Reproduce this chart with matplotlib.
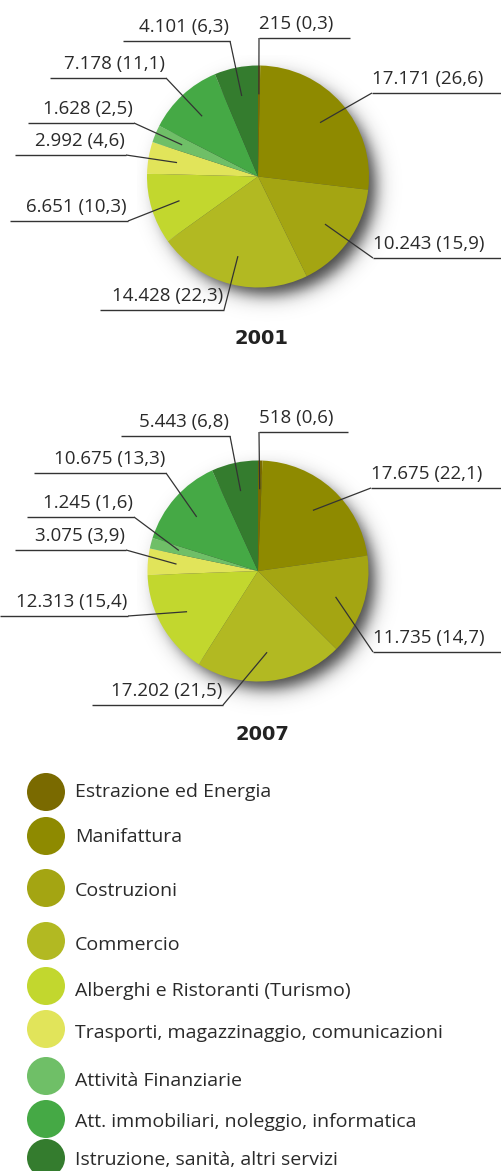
import numpy as np
import matplotlib
matplotlib.use("Agg")
import matplotlib.pyplot as plt
from matplotlib.patches import Circle

# ---------------- data ----------------
categories = [
    "Estrazione ed Energia",
    "Manifattura",
    "Costruzioni",
    "Commercio",
    "Alberghi e Ristoranti (Turismo)",
    "Trasporti, magazzinaggio, comunicazioni",
    "Attività Finanziarie",
    "Att. immobiliari, noleggio, informatica",
    "Istruzione, sanità, altri servizi",
]
values_2001 = [215, 17171, 10243, 14428, 6651, 2992, 1628, 7178, 4101]
pct_2001 = [0.3, 26.6, 15.9, 22.3, 10.3, 4.6, 2.5, 11.1, 6.3]
values_2007 = [518, 17675, 11735, 17202, 12313, 3075, 1245, 10675, 5443]
pct_2007 = [0.6, 22.1, 14.7, 21.5, 15.4, 3.9, 1.6, 13.3, 6.8]
years = ["2001", "2007"]

colors = ["#7A6A00", "#8E8A00", "#A4A512", "#B2B922", "#C2D72E",
          "#E1E45A", "#6FBF67", "#45A945", "#347C2E"]

# ---------------- layout (pixels) ----------------
W, H = 501, 1171
TXT = "#2a2a2a"
LINE = "#333333"

def Y(py):
    return H - py

# per pie: center, radius, title y, label elbows (x, y, line other end x)
pie_layout = [
    dict(center=(258, 176.5), r=111, title_y=339,
         elbows=[(259, 38, 350), (372, 93, 501), (373, 258, 501), (224, 310, 100),
                 (128, 221, 10), (126, 155, 15), (134, 123, 28), (166, 78, 50),
                 (230, 41, 123)]),
    dict(center=(258, 571), r=110.5, title_y=735,
         elbows=[(259, 432, 348), (371, 488, 501), (373, 652, 501), (223, 705, 92),
                 (128, 616, 0), (126, 550, 15), (134, 517, 27), (166, 473, 34),
                 (230, 436, 121)]),
]

legend_x = 46
legend_r = 19
legend_circle_y = [792, 836, 888, 941, 986, 1029, 1076, 1119, 1158]
legend_text_y = [792, 837, 891, 945, 991, 1033, 1081, 1122, 1160]

LABEL_FONT = ["Open Sans", "DejaVu Sans"]


def fmt_num(v):
    return f"{v:,}".replace(",", ".")


def fmt_pct(p):
    return f"{p:.1f}".replace(".", ",")


fig = plt.figure(figsize=(W / 100, H / 100), dpi=100)
ax = fig.add_axes([0, 0, 1, 1])


def draw_shadow(cx, cy, r):
    # soft drop shadow to lower-right
    x0, x1 = cx - r - 10, cx + r + 50
    y0, y1 = cy - r - 10, cy + r + 50   # pixel y
    n = 320
    xs = np.linspace(x0, x1, n)
    ys = np.linspace(y0, y1, n)
    XX, YY = np.meshgrid(xs, ys)
    sx, sy = cx + 9, cy + 10
    d = np.hypot(XX - sx, YY - sy)
    a = 0.85 * 0.5 * (1 - np.tanh((d - (r - 2)) / 10.0))
    img = np.zeros((n, n, 4))
    img[..., :3] = 0.12
    img[..., 3] = a
    ax.imshow(img, extent=(x0, x1, Y(y1), Y(y0)), origin="upper",
              interpolation="bilinear", zorder=1)


for vals, pcts, lay, yr in zip([values_2001, values_2007], [pct_2001, pct_2007],
                               pie_layout, years):
    cx, cy = lay["center"]
    r = lay["r"]
    draw_shadow(cx, cy, r)
    wedges, _ = ax.pie(vals, colors=colors, startangle=90, counterclock=False,
                       radius=r, center=(cx, Y(cy)),
                       wedgeprops=dict(linewidth=0))
    for w in wedges:
        w.set_zorder(2)
    total = float(sum(vals))
    cum = 0.0
    for i, v in enumerate(vals):
        mid = 90 - 360 * (cum + v / 2) / total
        cum += v
        th = np.deg2rad(mid)
        ix = cx + 0.74 * r * np.cos(th)
        iy = Y(cy) + 0.74 * r * np.sin(th)
        ex, ey, ox = lay["elbows"][i]
        ax.plot([ix, ex], [iy, Y(ey)], color=LINE, lw=0.9, zorder=5,
                solid_capstyle="butt")
        ax.plot([ex, ox], [Y(ey), Y(ey)], color=LINE, lw=1.0, zorder=5,
                solid_capstyle="butt")
        label = f"{fmt_num(v)} ({fmt_pct(pcts[i])})"
        if ox > ex:
            ax.text(ex, Y(ey) + 9, label, ha="left", va="baseline",
                    fontsize=13.5, color=TXT, family=LABEL_FONT, zorder=6)
        else:
            ax.text(ex - 1, Y(ey) + 9, label, ha="right", va="baseline",
                    fontsize=13.5, color=TXT, family=LABEL_FONT, zorder=6)
    ax.text(262, Y(lay["title_y"]), yr, ha="center", va="center",
            fontsize=14, fontweight="bold", color="#222222",
            family=["DejaVu Sans"], zorder=6)

# legend
for cat, col, cyy, ty in zip(categories, colors, legend_circle_y, legend_text_y):
    ax.add_patch(Circle((legend_x, Y(cyy)), legend_r, facecolor=col,
                        edgecolor="none", zorder=3))
    ax.text(75, Y(ty), cat, ha="left", va="center", fontsize=14,
            color=TXT, family=LABEL_FONT, zorder=6)

ax.set_xlim(0, W)
ax.set_ylim(0, H)
ax.set_aspect("auto")
ax.axis("off")
fig.savefig("out.png", dpi=100)
